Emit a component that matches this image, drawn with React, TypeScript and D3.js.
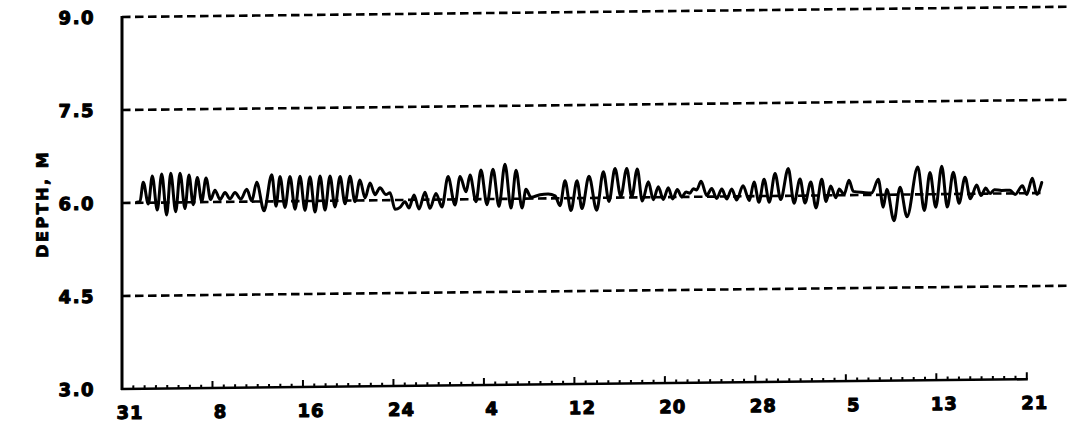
import React from 'react';
import * as d3 from 'd3';

const W = 1079;
const H = 430;

// Axis ticks
const yTicks = [3.0, 4.5, 6.0, 7.5, 9.0];
const xTickDays = [0, 8, 16, 24, 32, 40, 48, 56, 64, 72, 80];
const xTickLabels = ['31', '8', '16', '24', '4', '12', '20', '28', '5', '13', '21'];

// Water depth (m) vs. days since the "31" tick, read at the turning points of the trace
const tideDay = [
  1.30, 1.59, 1.88, 2.33, 2.68, 3.12, 3.51, 3.95, 4.31, 4.75, 5.13, 5.57, 5.92, 6.30, 6.66, 7.05,
  7.43, 7.84, 8.22, 8.67, 9.11, 9.55, 9.99, 10.50, 11.03, 11.47, 11.91, 12.56, 13.24, 13.62, 13.97,
  14.41, 14.85, 15.30, 15.74, 16.18, 16.62, 17.07, 17.51, 17.95, 18.39, 18.83, 19.28, 19.72, 20.16,
  20.60, 21.04, 21.49, 21.93, 22.37, 22.81, 23.34, 23.70, 24.14, 24.58, 25.02, 25.38, 25.82, 26.26,
  26.79, 27.23, 27.76, 28.29, 28.83, 29.44, 29.89, 30.42, 30.77, 31.30, 31.74, 32.27, 32.80, 33.33,
  33.86, 34.40, 34.84, 35.37, 35.72, 36.16, 36.96, 37.67, 38.29, 38.73, 39.17, 39.70, 40.23, 40.67,
  41.29, 41.97, 42.56, 43.06, 43.59, 44.10, 44.63, 45.07, 45.56, 46.00, 46.54, 46.98, 47.42, 47.86,
  48.30, 48.69, 49.10, 49.49, 49.87, 50.22, 50.52, 50.81, 51.20, 51.70, 52.14, 52.58, 53.03, 53.47,
  53.91, 54.35, 54.91, 55.47, 55.88, 56.32, 56.77, 57.23, 57.74, 58.24, 58.91, 59.42, 59.95, 60.39,
  60.90, 61.36, 61.87, 62.25, 62.66, 63.11, 63.42, 63.84, 64.28, 64.66, 65.55, 66.29, 66.87, 67.31,
  67.62, 68.26, 68.79, 69.41, 70.36, 70.94, 71.44, 71.95, 72.48, 72.97, 73.50, 74.01, 74.54, 75.01,
  75.57, 75.95, 76.37, 76.75, 77.13, 77.78, 78.52, 78.96, 79.61, 79.99, 80.49, 80.88, 81.32,
];
const tideDepth = [
  6.01, 6.02, 6.33, 5.98, 6.43, 5.88, 6.46, 5.80, 6.47, 5.85, 6.47, 5.90, 6.44, 5.96, 6.40, 6.01,
  6.39, 6.04, 6.19, 6.04, 6.15, 6.05, 6.15, 6.04, 6.20, 6.01, 6.31, 5.85, 6.43, 5.92, 6.40,
  5.90, 6.40, 5.87, 6.40, 5.85, 6.39, 5.82, 6.40, 5.85, 6.40, 5.90, 6.39, 5.95, 6.39,
  5.98, 6.33, 6.04, 6.28, 6.09, 6.20, 6.09, 6.12, 5.85, 5.88, 5.97, 5.87, 6.08, 5.85,
  6.12, 5.86, 6.10, 5.88, 6.37, 5.91, 6.37, 6.12, 6.39, 5.96, 6.47, 5.91, 6.48, 5.88,
  6.56, 5.85, 6.46, 5.85, 6.15, 6.02, 6.06, 6.07, 6.04, 5.88, 6.28, 5.80, 6.28, 5.83,
  6.35, 5.80, 6.42, 5.94, 6.47, 6.02, 6.47, 6.01, 6.46, 5.94, 6.25, 5.96, 6.17, 5.96,
  6.15, 5.97, 6.12, 6.00, 6.08, 6.06, 6.13, 6.11, 6.25, 6.02, 6.13, 5.97, 6.12, 5.96,
  6.12, 5.94, 6.17, 5.93, 6.23, 5.90, 6.27, 5.90, 6.36, 5.94, 6.44, 5.88, 6.27, 5.88,
  6.22, 5.80, 6.26, 5.90, 6.15, 5.96, 6.10, 6.01, 6.24, 6.06, 6.04, 6.03, 6.25, 5.80,
  6.09, 5.58, 6.12, 5.64, 6.44, 5.74, 6.35, 5.79, 6.45, 5.79, 6.35, 5.85, 6.27, 5.92,
  6.14, 5.97, 6.09, 6.00, 6.06, 6.05, 6.05, 5.98, 6.12, 5.98, 6.24, 5.98, 6.17,
];

const FONT = '"DejaVu Sans", "Liberation Sans", sans-serif';

export default function App() {
  const x = d3.scaleLinear().domain([0, 80]).range([122, 1026.8]);
  const y = d3.scaleLinear().domain([3, 9]).range([389, 17]);

  const n = Math.min(tideDay.length, tideDepth.length);
  const pts: [number, number][] = [];
  for (let i = 0; i < n; i++) pts.push([tideDay[i], tideDepth[i]]);

  const line = d3
    .line<[number, number]>()
    .x((p) => x(p[0]))
    .y((p) => y(p[1]))
    .curve(d3.curveMonotoneX);

  const minorDays = d3.range(0, 81);
  const gridEnd = (v: number) => (v === 6.0 ? 1045 : 1069);

  const heavy = { stroke: '#000', strokeWidth: 1.1, strokeLinejoin: 'round' as const };

  return (
    <svg
      width={W}
      height={H}
      viewBox={`0 0 ${W} ${H}`}
      style={{ position: 'absolute', left: 0, top: 0, background: '#fff' }}
    >
      <rect x={0} y={0} width={W} height={H} fill="#fff" />
      <g transform="translate(0,1.32) skewY(-0.62)">
        {/* dashed gridlines */}
        {yTicks
          .filter((v) => v > 3)
          .map((v) => (
            <line
              key={'g' + v}
              x1={x(0)}
              x2={gridEnd(v)}
              y1={y(v)}
              y2={y(v)}
              stroke="#000"
              strokeWidth={2.6}
              strokeDasharray="8.5,4.5"
            />
          ))}
        {/* y axis */}
        <line x1={x(0)} x2={x(0)} y1={y(9) - 1} y2={y(3) + 1} stroke="#000" strokeWidth={3} />
        {/* x axis */}
        <line x1={x(0) - 1} x2={x(80) + 1} y1={y(3)} y2={y(3)} stroke="#000" strokeWidth={2.6} />
        {minorDays.map((d) => {
          const major = xTickDays.includes(d);
          return (
            <line
              key={'t' + d}
              x1={x(d)}
              x2={x(d)}
              y1={y(3)}
              y2={y(3) - (major ? 7 : 3.5)}
              stroke="#000"
              strokeWidth={2}
            />
          );
        })}
        {/* y tick labels */}
        {yTicks.map((v) => (
          <text
            key={'yl' + v}
            x={95}
            y={y(v) + 6.5}
            textAnchor="end"
            fontFamily={FONT}
            fontWeight="bold"
            fontSize={18}
            letterSpacing={1.5}
            {...heavy}
          >
            {v.toFixed(1)}
          </text>
        ))}
        {/* x tick labels */}
        {xTickDays.map((d, i) => (
          <text
            key={'xl' + d}
            x={x(d) + 8}
            y={419}
            textAnchor="middle"
            fontFamily={FONT}
            fontWeight="bold"
            fontSize={18}
            letterSpacing={1}
            {...heavy}
          >
            {xTickLabels[i]}
          </text>
        ))}
        {/* y title */}
        <text
          transform={`translate(48,${y(6)}) rotate(-90)`}
          textAnchor="middle"
          fontFamily={FONT}
          fontWeight="bold"
          fontSize={16}
          letterSpacing={2.5}
          {...heavy}
          strokeWidth={0.9}
        >
          DEPTH, M
        </text>
        {/* depth trace */}
        <path
          d={line(pts) || ''}
          fill="none"
          stroke="#000"
          strokeWidth={3}
          strokeLinejoin="round"
          strokeLinecap="round"
        />
      </g>
    </svg>
  );
}
